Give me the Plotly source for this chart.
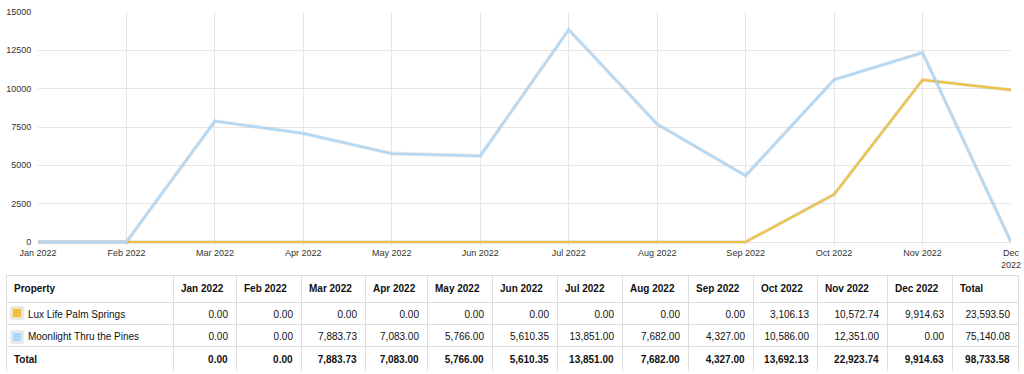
import plotly.graph_objects as go

months = ["Jan 2022", "Feb 2022", "Mar 2022", "Apr 2022", "May 2022", "Jun 2022",
          "Jul 2022", "Aug 2022", "Sep 2022", "Oct 2022", "Nov 2022", "Dec 2022"]
tick_labels = ["Jan 2022", "Feb 2022", "Mar 2022", "Apr 2022", "May 2022", "Jun 2022",
               "Jul 2022", "Aug 2022", "Sep 2022", "Oct 2022", "Nov 2022", "Dec<br>2022"]
lux = [0, 0, 0, 0, 0, 0, 0, 0, 0, 3106.13, 10572.74, 9914.63]
moon = [0, 0, 7883.73, 7083.00, 5766.00, 5610.35, 13851.00, 7682.00, 4327.00, 10586.00, 12351.00, 0]
series_names = ["Lux Life Palm Springs", "Moonlight Thru the Pines"]
series_colors = ["#edc240", "#afd8f8"]
yticks = [0, 2500, 5000, 7500, 10000, 12500, 15000]

W, H = 1024, 374
ML, MR, MT, MB = 6, 6, 12, 3
PW, PH = W - ML - MR, H - MT - MB

def px_x(p):
    return (p - ML) / PW

def px_y(p):
    return (H - MB - p) / PH

# y axis: 15000 at pixel 12, 0 at pixel 242; plot area extended a few px below 0
Y_TOP_PX, Y_ZERO_PX, Y_BOT_PX = 12, 242, 246
units_per_px = 15000 / (Y_ZERO_PX - Y_TOP_PX)
y_min = -(Y_BOT_PX - Y_ZERO_PX) * units_per_px

NB = "\u00a0"

fig = go.Figure()
for vals, col in zip([lux, moon], series_colors):
    fig.add_trace(go.Scatter(x=months, y=vals, mode="lines",
                             line=dict(color="rgba(0,0,0,0.09)", width=4),
                             hoverinfo="skip", showlegend=False))
    fig.add_trace(go.Scatter(x=months, y=vals, mode="lines",
                             line=dict(color=col, width=2.2), showlegend=False))

# table
col_widths = [167, 63, 65, 64, 62, 65, 65, 65, 66, 65, 64, 70, 65, 66]
header = ["<b>Property</b>"] + ["<b>%s</b>" % m.replace(" ", NB) for m in months] + ["<b>Total</b>"]

def fmt(v):
    return "{:,.2f}".format(v)

totals = [a + b for a, b in zip(lux, moon)]
col_vals = [[NB * 5 + n.replace(" ", NB) for n in series_names] + ["<b>Total</b>"]]
for i in range(12):
    col_vals.append([fmt(lux[i]), fmt(moon[i]), "<b>%s</b>" % fmt(totals[i])])
col_vals.append([fmt(sum(lux)), fmt(sum(moon)), "<b>%s</b>" % fmt(sum(totals))])

tfont = dict(family="Liberation Sans, Arial", size=10, color="#111")
fig.add_trace(go.Table(
    domain=dict(x=[0, 1], y=[0, px_y(275)]),
    columnwidth=col_widths,
    header=dict(values=header, height=22, align="left",
                line=dict(color="#dddddd", width=1), fill=dict(color="white"),
                font=tfont),
    cells=dict(values=col_vals, height=22, align=["left"] + ["right"] * 13,
               line=dict(color="#dddddd", width=1), fill=dict(color="white"),
               font=tfont),
))

# legend swatches in the Property column
shapes = []
for r, col in enumerate(series_colors):
    cy = 313 + 24 * r
    shapes.append(dict(type="rect", xref="paper", yref="paper", layer="above",
                       x0=px_x(11), x1=px_x(23), y0=px_y(cy + 6), y1=px_y(cy - 6),
                       line=dict(color="#d6d6d6", width=1), fillcolor="white"))
    shapes.append(dict(type="rect", xref="paper", yref="paper", layer="above",
                       x0=px_x(12.5), x1=px_x(21.5), y0=px_y(cy + 4.5), y1=px_y(cy - 4.5),
                       line=dict(width=0), fillcolor=col))

fig.update_layout(
    width=W, height=H,
    margin=dict(l=ML, r=MR, t=MT, b=MB, autoexpand=False),
    paper_bgcolor="white", plot_bgcolor="white",
    font=dict(family="Liberation Sans, Arial", size=9, color="#333"),
    shapes=shapes,
    xaxis=dict(domain=[px_x(38), px_x(1011)], type="category", automargin=False,
               range=[0, 11], tickvals=months, ticktext=tick_labels,
               showgrid=True, gridcolor="#e6e6e6", gridwidth=1,
               zeroline=False, showline=False, ticks="", tickangle=0),
    yaxis=dict(domain=[px_y(Y_BOT_PX), px_y(Y_TOP_PX)], range=[y_min, 15000], automargin=False,
               tickvals=yticks, ticktext=[str(v) for v in yticks],
               showgrid=True, gridcolor="#e6e6e6", gridwidth=1,
               zeroline=False, showline=False, ticks="outside", ticklen=4,
               tickcolor="rgba(0,0,0,0)"),
)

fig.write_html("out.html", config={"displayModeBar": False},
               post_script="document.body.style.margin='0';document.body.style.overflow='hidden';")
